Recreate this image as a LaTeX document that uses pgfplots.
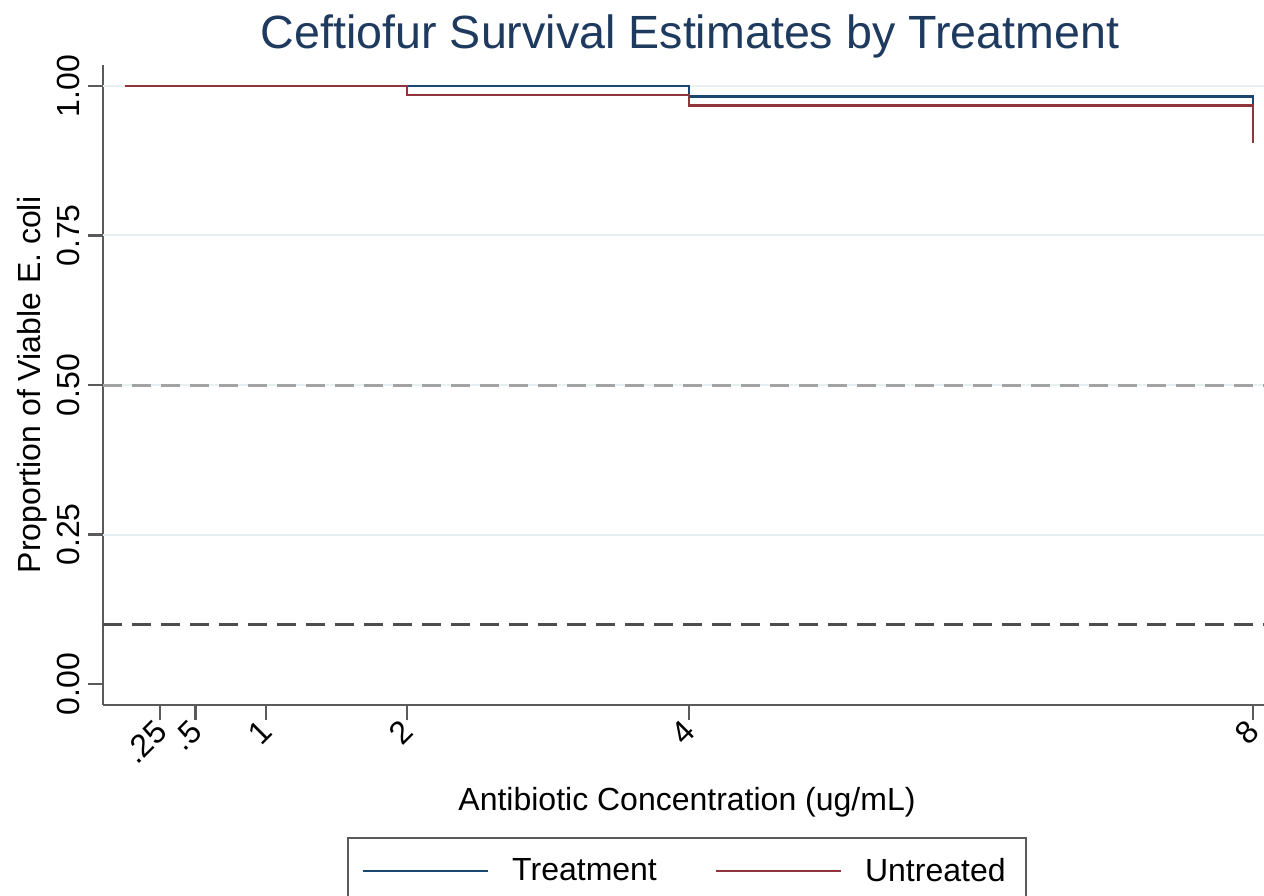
\documentclass[border=0pt]{standalone}
\usepackage{pgfplots}
\pgfplotsset{compat=1.18}
\usepackage{fontspec}
\setmainfont{Liberation Sans}

\definecolor{kmblue}{HTML}{1A476F}
\definecolor{kmred}{HTML}{90353B}
\definecolor{titleblue}{HTML}{1E3A5F}
\definecolor{axisgray}{HTML}{5A5A5A}
\definecolor{gridblue}{HTML}{E6EFF1}
\definecolor{refmid}{HTML}{A3A3A3}
\definecolor{reflow}{HTML}{4D4D4D}

\newcommand{\lblfont}{\fontsize{16}{19}\selectfont}

\begin{document}
\begin{tikzpicture}
\begin{axis}[
  scale only axis, width=580.5pt, height=320pt,
  xmin=-0.156, xmax=8.078, ymin=-0.0351, ymax=1.0351,
  axis x line*=bottom, axis y line*=left,
  axis line style={axisgray, line width=1.1pt},
  every tick/.style={axisgray, line width=1.1pt},
  tick align=outside, major tick length=7.5pt,
  xtick={0.25,0.5,1,2,4,8}, xticklabels={.25,.5,1,2,4,8},
  ytick={0,0.25,0.5,0.75,1}, yticklabels={0.00,0.25,0.50,0.75,1.00},
  extra y ticks={0.25,0.5,0.75,1}, extra y tick labels={},
  extra y tick style={grid=major, major tick length=0pt},
  grid style={gridblue, line width=1pt},
  tick label style={font=\lblfont},
  xticklabel style={xshift=1.5pt, yshift=-2pt, rotate=45, anchor=east, inner sep=1.5pt},
  yticklabel style={rotate=90, anchor=south, inner xsep=0pt, inner ysep=4pt},
  title={Ceftiofur Survival Estimates by Treatment},
  title style={at={(axis description cs:0.5056,1.0078)}, anchor=base,
    font=\fontsize{23.3}{27}\selectfont, color=titleblue, inner sep=0pt},
  xlabel={Antibiotic Concentration (ug/mL)},
  xlabel style={at={(axis description cs:0.503,-0.1656)}, anchor=base,
    font=\lblfont, inner sep=0pt},
  ylabel={Proportion of Viable E. coli},
  ylabel style={at={(axis description cs:-0.0534,0.5)}, anchor=base,
    rotate=0, font=\lblfont, inner sep=0pt},
  legend columns=2,
  legend cell align=left,
  legend image code/.code={\draw[#1, line width=1.1pt] (0pt,0pt) -- (62.5pt,0pt);},
  legend style={at={(axis description cs:0.2102,-0.2063)}, anchor=north west,
    draw=axisgray, line width=1pt, inner xsep=7pt, inner ysep=10pt,
    font=\lblfont, nodes={inner sep=0pt}},
  clip=false,
]
\coordinate (o) at (rel axis cs:0,0);

% reference lines at 50% and 10% survival
\addplot[forget plot, refmid, line width=1.5pt, dash pattern=on 9.5pt off 5pt]
  coordinates {(-0.156,0.5) (8.078,0.5)};
\addplot[forget plot, reflow, line width=1.5pt, dash pattern=on 9.5pt off 5pt]
  coordinates {(-0.156,0.1) (8.078,0.1)};

% Kaplan-Meier step curves
\addplot[const plot, kmblue, line width=1.4pt]
  coordinates {(0,1) (4,0.983) (8,0.968)};
\addlegendentry{\hspace{11.5pt}Treatment\rule{29pt}{0pt}}
\addplot[const plot, kmred, line width=1.4pt]
  coordinates {(0,1) (2,0.985) (4,0.968) (8,0.905)};
\addlegendentry{\hspace{11.5pt}Untreated\rule{3pt}{0pt}}
\end{axis}
\pgfresetboundingbox
\path[use as bounding box] ([shift={(-51.5pt,-95pt)}]o) rectangle ([shift={(580.5pt,352.5pt)}]o);
\end{tikzpicture}
\end{document}
